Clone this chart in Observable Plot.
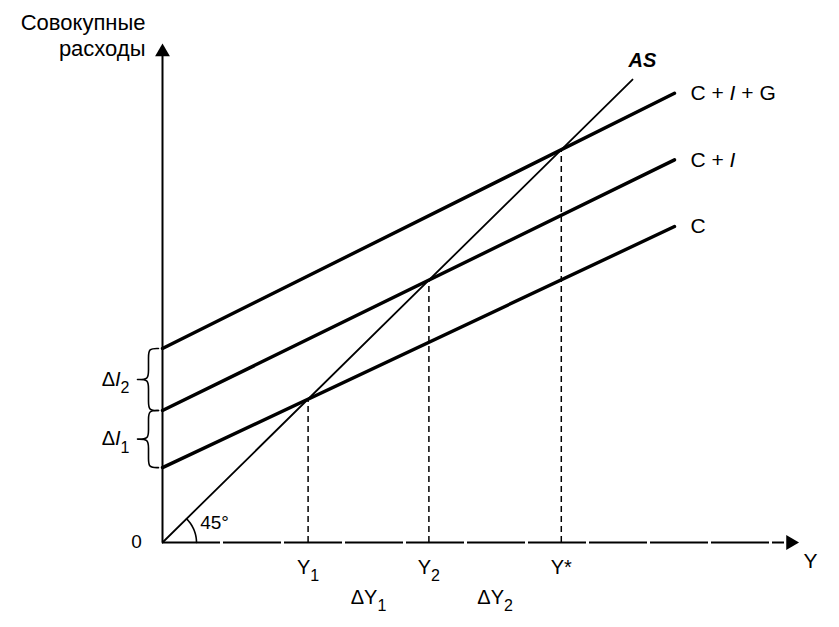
<!DOCTYPE html>
<html><head><meta charset="utf-8">
<script src="https://cdn.jsdelivr.net/npm/d3@7"></script>
<script src="https://cdn.jsdelivr.net/npm/@observablehq/plot@0.6"></script>
<style>body{margin:0;background:#fff;}</style>
</head><body><div id="chart"></div>
<script>
// ---- chart values (data units) ----
const seriesNames = ["C", "C + ~I~", "C + ~I~ + G"];
const intercepts = [7.6, 13.4, 19.7];
const slopes = [0.478, 0.497, 0.506];
const lineEndX = 51.2;
const asEndX = 47.0;
const asLabel = "AS";
const eqLabels = ["Y_1", "Y_2", "Y*"];
const deltaYLabels = ["ΔY_1", "ΔY_2"];
const deltaILabels = ["Δ~I~_1", "Δ~I~_2"];
const yAxisTitle = "Совокупные\nрасходы";
const xAxisTitle = "Y";
const originLabel = "0";
const angleLabel = "45°";

// ---- derived geometry ----
const eqX = intercepts.map((a, i) => a / (1 - slopes[i]));
const seriesLines = seriesNames.flatMap((s, i) => [
  {s, x: 0, y: intercepts[i]},
  {s, x: lineEndX, y: intercepts[i] + slopes[i] * lineEndX}
]);
const seriesEnds = seriesNames.map((s, i) => ({s, x: lineEndX, y: intercepts[i] + slopes[i] * lineEndX}));
const asLine = [{x: 0, y: 0}, {x: asEndX, y: asEndX}];
const eqPts = eqX.map((x, i) => ({x, label: eqLabels[i]}));
const dYPts = deltaYLabels.map((label, i) => ({x: (eqX[i] + eqX[i + 1]) / 2, label}));
const dIPts = deltaILabels.map((label, i) => ({lo: intercepts[i], hi: intercepts[i + 1], y: (intercepts[i] + intercepts[i + 1]) / 2, label}));

function brace(lo, hi, id) {
  const end = -0.4, spine = -1.4, tip = -2.5, r = 0.9, m = (lo + hi) / 2;
  const p = [[end, hi], [spine, hi], [spine, hi - r], [spine, m + r], [spine, m], [tip, m], [tip, m], [tip, m],
             [spine, m], [spine, m - r], [spine, lo + r], [spine, lo], [end, lo]];
  return p.map(([x, y]) => ({x, y, id}));
}
const braces = dIPts.flatMap((d, i) => brace(d.lo, d.hi, i));
const arcR = 3.4;
const arc = d3.range(0, 46, 3).map(a => ({x: arcR * Math.cos(a * Math.PI / 180), y: arcR * Math.sin(a * Math.PI / 180)}));
const arrows = [{x: 0, y: 49.8, rot: 0}, {x: 62.8, y: 0, rot: 90}];

const W = 839, H = 627;
const chart = Plot.plot({
  width: W, height: H,
  marginLeft: 162, marginRight: 0, marginTop: 0, marginBottom: 85,
  x: {domain: [0, 67.7], axis: null},
  y: {domain: [0, 542 / 9.85], axis: null},
  style: {fontFamily: "'Liberation Sans', Arial, sans-serif", fontSize: "20px", background: "white", color: "black"},
  marks: [
    // axes
    Plot.ruleX([0], {y1: 0, y2: 49.5, stroke: "black", strokeWidth: 2}),
    Plot.ruleY([0], {x1: 0, x2: 62.2, stroke: "black", strokeWidth: 2, strokeDasharray: "58,3"}),
    Plot.dot(arrows, {x: "x", y: "y", rotate: "rot", symbol: "triangle", r: 5.5, fill: "black", stroke: "none"}),
    // dashed verticals
    Plot.ruleX(eqX, {x: d => d, y1: 0, y2: d => d, stroke: "black", strokeWidth: 1.5, strokeDasharray: "6,4"}),
    // AS
    Plot.line(asLine, {x: "x", y: "y", stroke: "black", strokeWidth: 1.8}),
    // spending lines
    Plot.line(seriesLines, {x: "x", y: "y", z: "s", stroke: "black", strokeWidth: 3.4, strokeLinecap: "round"}),
    // braces
    Plot.line(braces, {x: "x", y: "y", z: "id", curve: "basis", stroke: "black", strokeWidth: 1.6}),
    // 45° arc
    Plot.line(arc, {x: "x", y: "y", stroke: "black", strokeWidth: 1.6}),
    // labels
    Plot.text(seriesEnds, {x: d => d.x + 1.6, y: "y", text: "s", textAnchor: "start", fontSize: 21}),
    Plot.text([asLabel], {x: 48.0, y: 48.9, text: d => d, fontStyle: "italic", fontWeight: "bold", fontSize: 20}),
    Plot.text(eqPts, {x: "x", y: -2.5, text: "label", fontSize: 20}),
    Plot.text(dYPts, {x: "x", y: -5.6, text: "label", fontSize: 20}),
    Plot.text(dIPts, {x: -3.3, y: "y", text: "label", textAnchor: "end", fontSize: 20}),
    Plot.text([yAxisTitle], {x: -1.7, y: 53.9, text: d => d, textAnchor: "end", lineAnchor: "top", lineHeight: 1.18, fontSize: 22}),
    Plot.text([xAxisTitle], {x: 64.8, y: -1.9, text: d => d, fontSize: 21}),
    Plot.text([originLabel], {x: -2.6, y: 0.1, text: d => d, fontSize: 19}),
    Plot.text([angleLabel], {x: 5.2, y: 2.0, text: d => d, fontSize: 19})
  ]
});

// simple markup: ~x~ italic, _c subscript
chart.querySelectorAll("text").forEach(el => {
  if (el.children.length) return;
  const s = el.textContent;
  if (!/[_~]/.test(s)) return;
  el.textContent = "";
  const ns = "http://www.w3.org/2000/svg";
  s.split(/(~[^~]+~|_[^_~\s])/).filter(p => p).forEach(p => {
    const t = document.createElementNS(ns, "tspan");
    if (p[0] === "~") { t.setAttribute("font-style", "italic"); t.textContent = p.slice(1, -1); }
    else if (p[0] === "_") { t.setAttribute("dy", "0.45em"); t.setAttribute("font-size", "0.8em"); t.textContent = p.slice(1); }
    else t.textContent = p;
    el.appendChild(t);
  });
});
document.getElementById("chart").appendChild(chart);
</script>
</body></html>
